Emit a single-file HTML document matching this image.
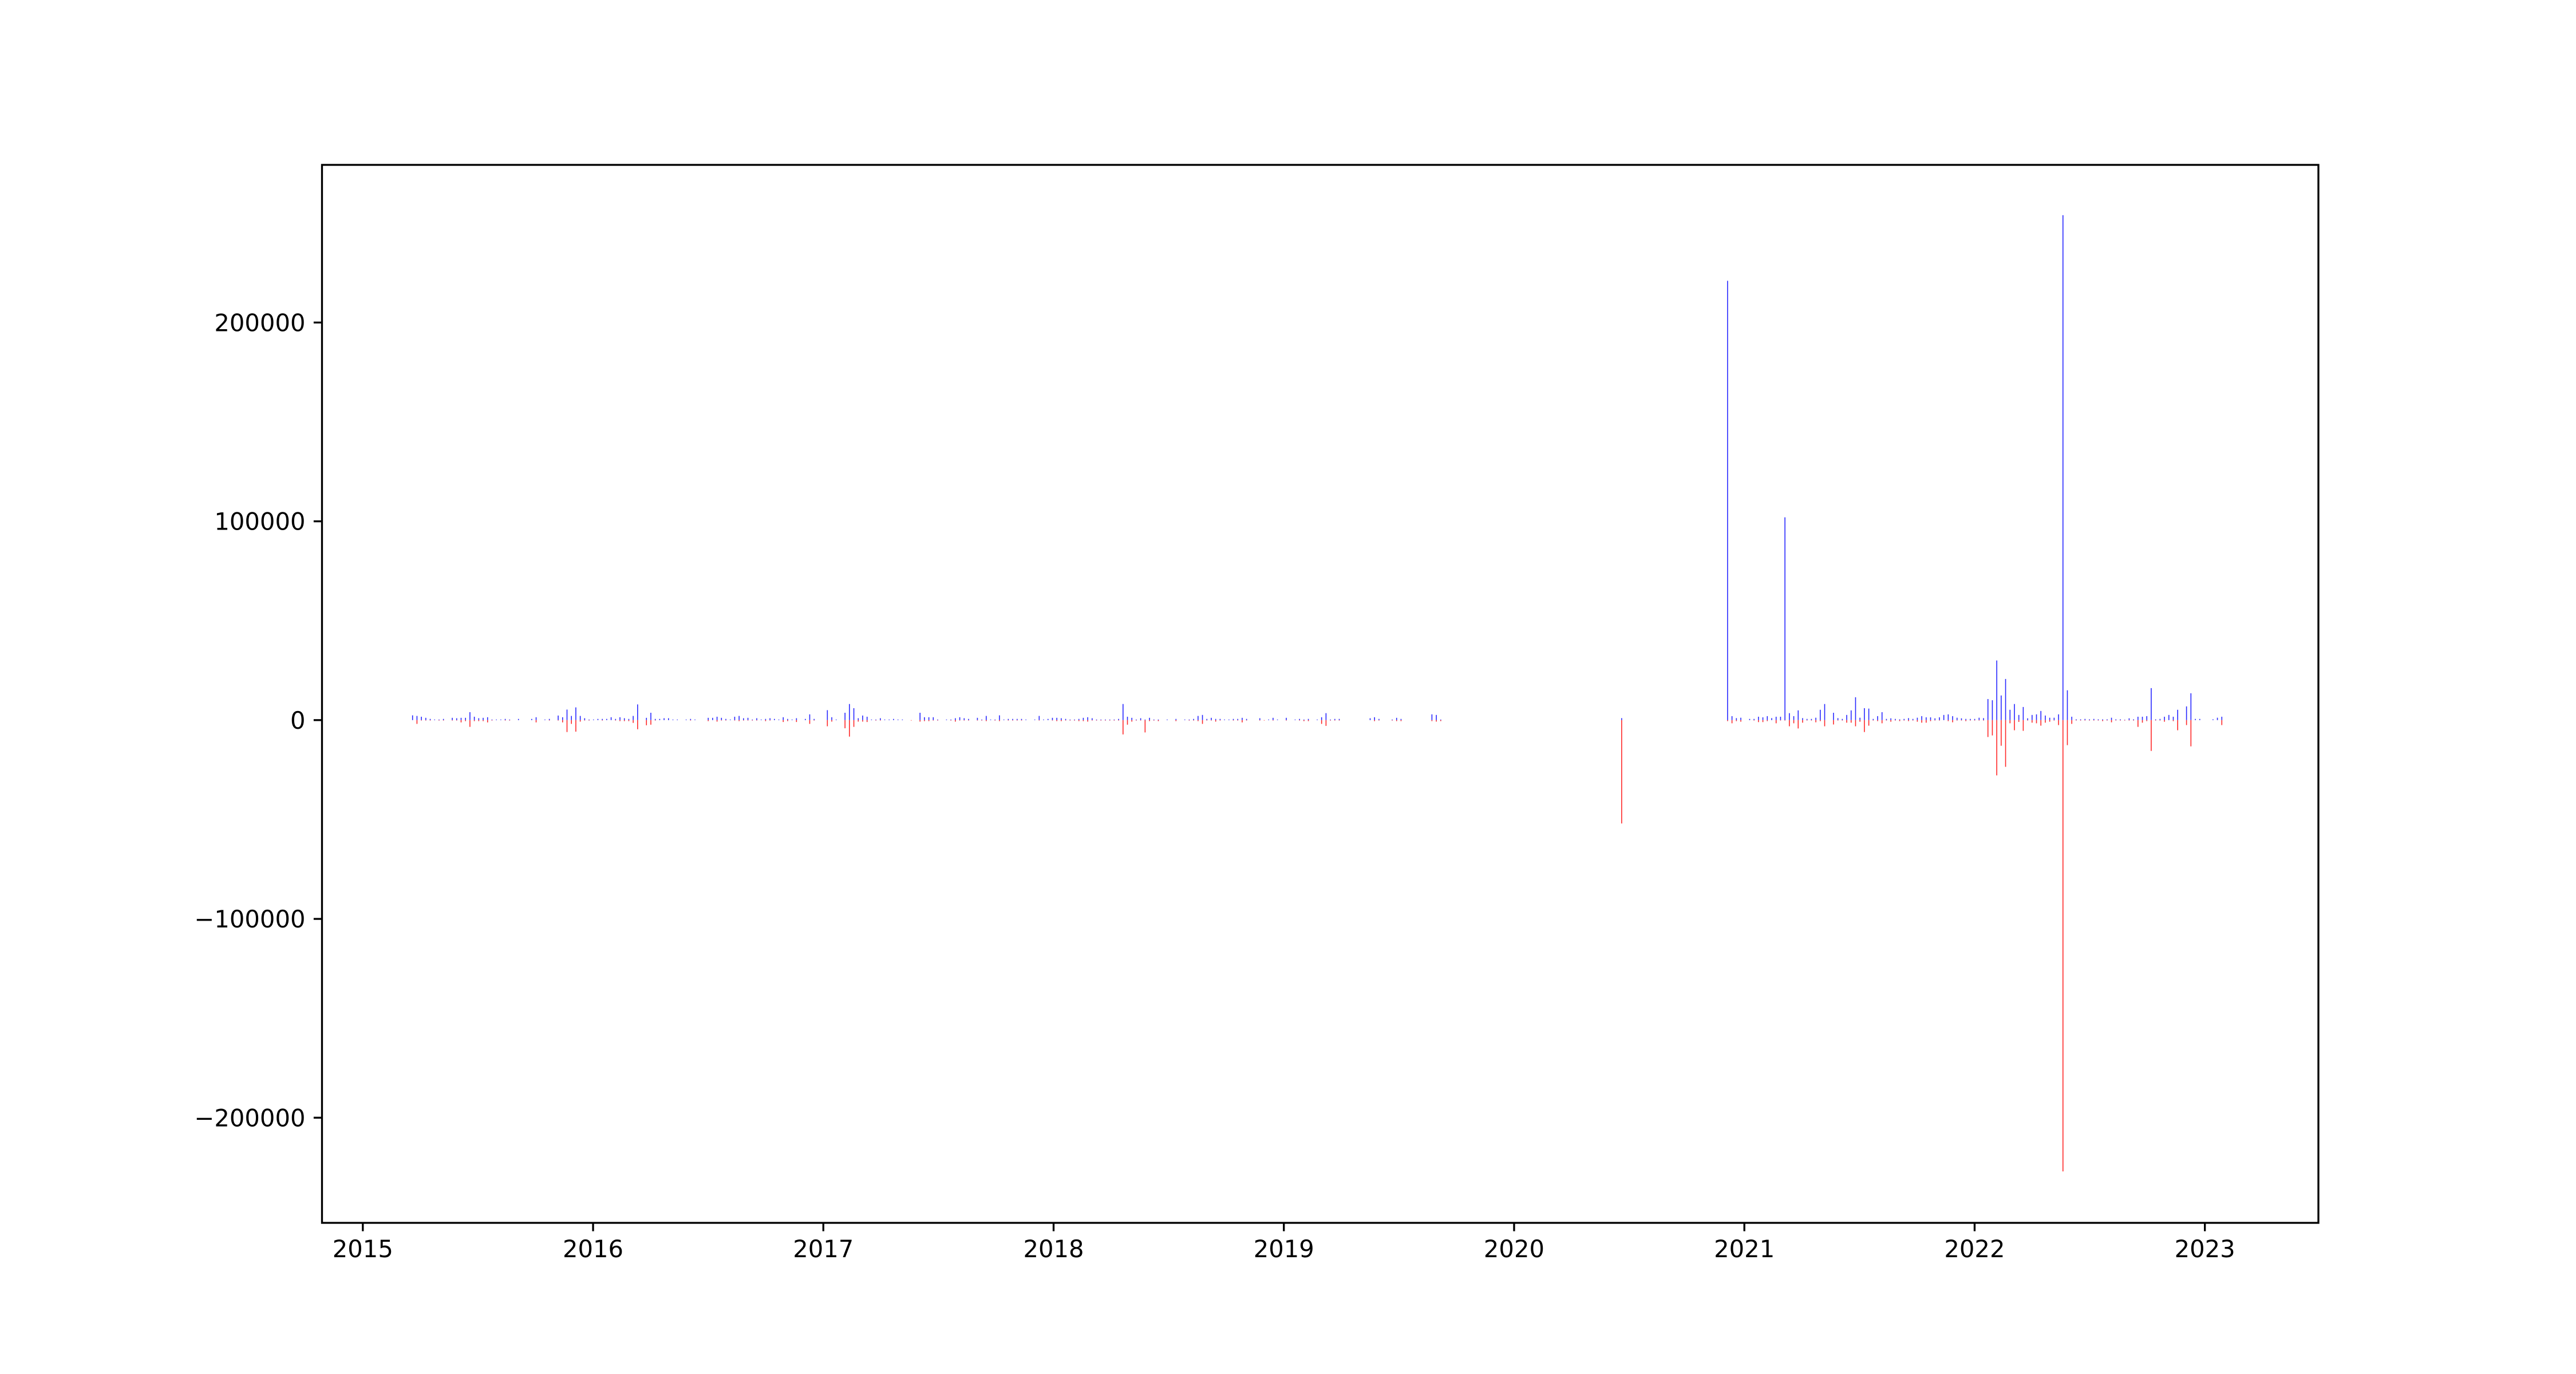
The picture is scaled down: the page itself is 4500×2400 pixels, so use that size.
<!DOCTYPE html>
<html><head><meta charset="utf-8"><style>
html,body{margin:0;padding:0;background:#fff;}
svg{display:block;}
text{font-family:"DejaVu Sans","Liberation Sans",sans-serif;font-size:41.7px;fill:#000;}
</style></head>
<body>
<svg id="chart" width="4500" height="2400" viewBox="0 0 4500 2400" xmlns="http://www.w3.org/2000/svg">
<rect width="4500" height="2400" fill="#fff"/>
<g id="marks"></g>
<g id="axes"></g>
</svg>
<script>
// Weekly series: start date (decimal year), week indices, positive and negative values
const startYear = 2015.216;
const weekIdx = [0,1,2,3,4,5,6,7,9,10,11,12,13,14,15,16,17,18,19,20,21,22,24,27,28,30,31,33,34,35,36,37,38,39,40,41,42,43,44,45,46,47,48,49,50,51,53,54,55,56,57,58,59,60,62,63,64,67,68,69,70,71,72,73,74,75,76,77,78,79,80,81,82,83,84,85,86,87,89,90,91,94,95,96,98,99,100,101,102,103,104,105,106,107,108,109,110,111,113,115,116,117,118,119,121,122,123,124,125,126,128,129,130,131,132,133,134,135,136,137,138,139,
141,142,143,144,145,146,147,148,149,150,151,152,153,154,155,156,157,158,159,160,161,162,163,164,165,166,167,168,169,171,173,175,176,177,178,179,180,181,182,183,184,185,186,187,188,189,192,193,194,195,196,198,200,201,202,203,205,206,207,208,209,210,217,218,219,222,223,224,231,232,233,274,
298,299,300,301,303,304,305,306,307,308,309,310,311,312,313,314,315,316,317,318,319,320,322,323,324,325,326,327,328,329,330,331,332,333,334,335,336,337,338,339,340,341,342,343,344,345,346,347,348,349,350,351,352,353,354,355,356,357,358,359,360,361,362,363,364,365,366,367,368,369,370,371,372,373,374,375,376,377,378,379,380,381,382,383,384,385,386,387,388,389,390,391,392,393,394,395,396,397,398,399,400,402,403,404,405,408,409,410];
const posVals = [2400,2100,1700,1150,600,300,300,600,1150,950,1150,1150,4000,1700,950,1150,1450,300,300,300,600,300,600,600,1450,300,600,2300,1450,5300,2100,6400,2100,950,300,300,600,600,600,1450,600,1450,950,600,2100,7900,1150,3700,600,600,950,950,300,300,300,600,300,1150,1150,1700,1150,600,300,1700,2100,950,1150,300,950,300,600,950,600,300,1450,600,300,950,600,2900,600,5000,1450,300,3700,8100,6000,950,2300,1700,300,300,950,300,300,600,300,300,0,3700,1450,1450,1450,300,300,300,950,1450,950,600,1150,300,2100,300,300,2400,300,600,600,600,600,300,
300,2100,300,600,1150,1150,950,600,300,300,600,1150,1450,950,300,300,300,300,300,600,8100,1700,1150,300,950,300,1150,300,300,300,600,300,300,600,2100,2600,600,1150,600,600,300,300,600,600,1150,600,950,0,300,1150,300,1150,300,600,300,600,300,1450,3500,300,600,600,950,1450,600,300,1150,600,2900,2600,300,1000,
221000,2000,1000,1200,600,600,1700,1400,2000,1000,1700,1700,102000,3500,2000,4900,1000,600,600,1200,5200,8100,3700,1000,600,2600,4900,11500,1200,6000,5800,600,2000,4000,600,900,600,400,600,1000,600,1200,2000,1400,1400,900,1400,2600,2900,2000,1200,900,600,600,600,1200,1000,10600,10000,30000,12400,20700,5200,8100,2600,6600,900,2600,2900,4600,2300,1200,1200,2900,254000,15000,1700,400,400,600,400,600,400,400,400,1200,400,400,200,900,400,1700,1700,2000,16100,400,600,1700,2600,1700,5200,6900,13500,600,600,400,1200,1700];
const negVals = [0,1900,200,200,200,0,200,200,200,200,1150,500,3400,500,500,500,1150,200,0,0,200,200,0,0,1150,0,200,200,1150,6000,1900,5800,750,200,200,0,0,200,0,0,200,500,500,500,1400,4600,2600,2300,200,0,0,0,0,0,0,200,0,500,0,750,200,200,0,200,500,200,200,200,200,0,500,200,0,0,950,500,0,950,0,1900,200,3100,750,0,4100,8300,3400,750,750,950,0,200,200,0,0,0,0,0,200,750,500,500,200,200,0,200,750,200,200,200,200,200,500,0,200,500,0,200,200,200,200,0,
0,200,0,0,200,500,500,200,200,200,500,500,750,200,200,200,200,200,200,200,7200,2300,750,200,200,6200,500,200,500,0,500,0,200,200,500,1900,200,200,750,200,0,0,200,200,1150,200,200,200,0,200,0,200,0,200,500,500,0,1900,2900,200,200,200,0,500,200,200,500,500,500,750,500,52000,
500,1600,500,800,0,200,1000,1000,500,0,1600,200,200,3100,1600,4200,1300,200,200,1100,500,3100,2200,200,200,1300,1300,3100,800,6000,2800,200,500,1600,200,800,200,500,200,500,200,800,1300,1300,500,200,200,0,500,1100,200,200,500,200,200,200,200,8500,7700,27800,12900,23500,1600,5100,900,5400,200,1300,1600,2800,1300,800,200,2500,227000,12600,1900,200,200,200,200,200,200,500,200,1100,200,200,200,200,200,3400,1300,500,15500,200,200,800,0,500,5100,2500,13200,0,0,0,0,2500];
const yTicks = [-200000,-100000,0,100000,200000];
const xTicks = [2015,2016,2017,2018,2019,2020,2021,2022,2023];

const L=562.5,R=4050,T=288,B=2136;
const xMin=2014.8227,xMax=2023.4931,yMin=-252900,yMax=279300;
const sx=v=>L+(v-xMin)/(xMax-xMin)*(R-L);
const sy=v=>B-(v-yMin)/(yMax-yMin)*(B-T);
const NS="http://www.w3.org/2000/svg";
const marks=document.getElementById('marks');
const axes=document.getElementById('axes');
function mk(tag,attrs,parent){const e=document.createElementNS(NS,tag);for(const k in attrs)e.setAttribute(k,attrs[k]);parent.appendChild(e);return e;}

for(let i=0;i<weekIdx.length;i++){
  const yr=startYear+weekIdx[i]*7/365.25;
  const x=sx(yr);
  if(posVals[i]>0){
    const l=mk('line',{x1:x,x2:x,y1:sy(0),y2:sy(posVals[i]),stroke:'#0000ff','stroke-width':1.6,'stroke-opacity':0.85},marks);
    
    
  }
  if(negVals[i]>0){
    const l=mk('line',{x1:x,x2:x,y1:sy(0),y2:sy(-negVals[i]),stroke:'#ff0000','stroke-width':1.6,'stroke-opacity':0.85},marks);
    
    
  }
}
// frame
const fr=mk('rect',{x:L,y:T,width:R-L,height:B-T,fill:'none',stroke:'#000','stroke-width':3.33},axes);


yTicks.forEach(v=>{
  const y=sy(v);
  const t=mk('line',{x1:L-14.6,x2:L,y1:y,y2:y,stroke:'#000','stroke-width':3.33},axes);
  
  
  const tx=mk('text',{x:L-29,y:y+15,'text-anchor':'end'},axes);
  tx.textContent=v<0?'\u2212'+Math.abs(v):String(v);
  
  
});
xTicks.forEach(v=>{
  const x=sx(v);
  const t=mk('line',{x1:x,x2:x,y1:B,y2:B+14.6,stroke:'#000','stroke-width':3.33},axes);
  
  
  const tx=mk('text',{x:x,y:B+29+31,'text-anchor':'middle'},axes);
  tx.textContent=String(v);
  
  
});
</script>
</body></html>
